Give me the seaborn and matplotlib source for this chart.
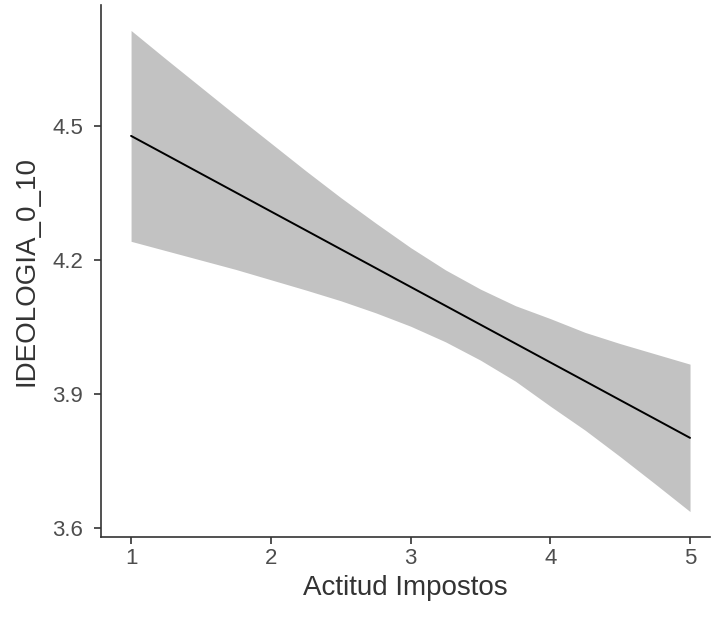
import numpy as np
import pandas as pd
import seaborn as sns
import matplotlib.pyplot as plt

# values
actitud = [1, 1.25, 1.5, 1.75, 2, 2.25, 2.5, 2.75, 3, 3.25, 3.5, 3.75, 4, 4.25, 4.5, 4.75, 5]
ideologia = [4.478, 4.4358, 4.3935, 4.3513, 4.309, 4.2668, 4.2245, 4.1823, 4.140,
             4.0978, 4.0555, 4.0133, 3.971, 3.9288, 3.8865, 3.8443, 3.802]
ci_upper = [4.714, 4.650, 4.587, 4.524, 4.462, 4.400, 4.340, 4.283, 4.228,
            4.178, 4.135, 4.098, 4.069, 4.038, 4.013, 3.990, 3.967]
ci_lower = [4.242, 4.221, 4.200, 4.179, 4.156, 4.133, 4.109, 4.082, 4.052,
            4.017, 3.976, 3.929, 3.873, 3.819, 3.760, 3.699, 3.637]

x_ticks = [1, 2, 3, 4, 5]
y_ticks = [3.6, 3.9, 4.2, 4.5]

df = pd.DataFrame({'Actitud Impostos': actitud, 'IDEOLOGIA_0_10': ideologia,
                   'lower': ci_lower, 'upper': ci_upper})

sns.set_style("ticks")
plt.rcParams['font.family'] = ['Liberation Sans', 'DejaVu Sans']

fig = plt.figure(figsize=(7.19, 6.27), dpi=100)
ax = fig.add_axes([0.1405, 0.1435, 0.847, 0.8485])

ax.fill_between(df['Actitud Impostos'], df['lower'], df['upper'],
                color='#c2c2c2', linewidth=0)
sns.lineplot(data=df, x='Actitud Impostos', y='IDEOLOGIA_0_10', color='black',
             linewidth=1.4, ax=ax)

ax.set_xlim(0.785, 5.143)
ax.set_ylim(3.58, 4.771)
ax.set_xticks(x_ticks)
ax.set_yticks(y_ticks)
ax.set_xticklabels([str(t) for t in x_ticks])
ax.set_yticklabels([f"{t:.1f}" for t in y_ticks])

for side in ['top', 'right']:
    ax.spines[side].set_visible(False)
for side in ['left', 'bottom']:
    ax.spines[side].set_color('#333333')
    ax.spines[side].set_linewidth(1.2)

ax.tick_params(axis='both', colors='#333333', labelcolor='#4d4d4d',
               labelsize=16, length=5, width=1.2)
ax.tick_params(axis='y', pad=8)
ax.tick_params(axis='x', pad=3)
ax.set_xlabel('Actitud Impostos', fontsize=20, color='#333333', labelpad=4)
ax.set_ylabel('IDEOLOGIA_0_10', fontsize=20, color='#333333', labelpad=9)

fig.savefig('out.png', dpi=100)
